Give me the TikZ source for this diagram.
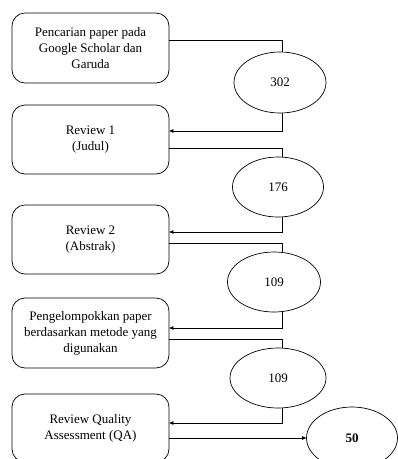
\documentclass[tikz,border=0pt]{standalone}
\usepackage{fontspec}
\setmainfont{Liberation Serif}
\usetikzlibrary{shapes.geometric,arrows.meta,calc}
\begin{document}
\begin{tikzpicture}[x=1pt,y=-1pt,
  every node/.style={font=\fontsize{13}{16}\selectfont},
  stepbox/.style={draw, line width=0.7pt, rounded corners=13pt, minimum width=157pt, minimum height=70pt, align=center, inner sep=0pt},
  countell/.style={draw, ellipse, line width=0.7pt, minimum width=92pt, minimum height=61pt, inner sep=0pt},
  conn/.style={line width=0.7pt},
  arr/.style={conn, -{Triangle[length=4pt,width=3.5pt]}}]
\useasboundingbox (0,0) rectangle (398,459);
\node[stepbox] (b1) at (90.5,48) {Pencarian paper pada\\Google Scholar dan\\Garuda};
\node[stepbox, minimum height=69pt] (b2) at (90.5,139.5) {Review 1\\(Judul)};
\node[stepbox, minimum height=69pt] (b3) at (90.5,239.5) {Review 2\\(Abstrak)};
\node[stepbox] (b4) at (90.5,333) {Pengelompokkan paper\\berdasarkan metode yang\\digunakan};
\node[stepbox, minimum height=68pt] (b5) at (90.5,428) {Review Quality\\Assessment (QA)};
\node[countell] (e1) at (280,82.5) {302};
\node[countell, minimum width=91pt, minimum height=60pt] (e2) at (278,187) {176};
\node[countell, minimum width=93pt, minimum height=60pt] (e3) at (274,282) {109};
\node[countell, minimum width=96pt, minimum height=60pt] (e4) at (278,378) {109};
\node[countell, minimum width=91pt, minimum height=62pt] (e5) at (352,438) {\textbf{50}};
\coordinate (vx) at (282,0);
\draw[conn] ([yshift=8pt]b1.east) -| (vx |- e1.north);
\draw[arr] (vx |- e1.south) |- ([yshift=8.5pt]b2.east);
\draw[conn] ([yshift=-8.5pt]b2.east) -| (vx |- e2.north);
\draw[arr] (vx |- e2.south) |- ([yshift=7.5pt]b3.east);
\draw[conn] ([yshift=-3.5pt]b3.east) -| (vx |- e3.north);
\draw[arr] (vx |- e3.south) |- ([yshift=5pt]b4.east);
\draw[conn] ([yshift=-6pt]b4.east) -| (vx |- e4.north);
\draw[arr] (vx |- e4.south) |- ([yshift=5pt]b5.east);
\draw[arr] ([yshift=-10pt]b5.east) -- (e5.west);
\end{tikzpicture}
\end{document}
